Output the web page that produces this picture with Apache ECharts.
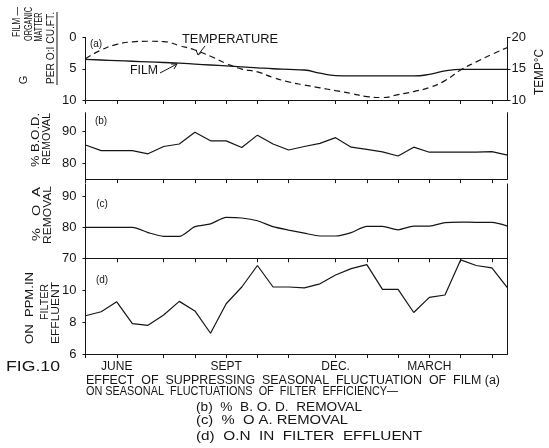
<!DOCTYPE html>
<html><head><meta charset="utf-8">
<script src="https://cdn.jsdelivr.net/npm/echarts@6/dist/echarts.min.js"></script>
<style>html,body{margin:0;padding:0;background:#fff;}#c{width:549px;height:448px;}</style>
</head><body><div id="c"></div>
<script>
// ---- data ----
const samples = ['1','2','3','4','5','6','7','8','9','10','11','12','13','14','15','16','17','18','19','20','21','22','23','24','25','26','27','28'];
const tickIdx = [0,2,5,7,9,11,13,16,18,20,22,24,26];
const monthIdx = [2,9,16,22];
const monthNames = ['JUNE','SEPT','DEC.','MARCH'];
const film = [3.5,3.6,3.7,3.8,3.9,4.0,4.1,4.25,4.4,4.55,4.7,4.85,5.0,5.1,5.2,5.7,6.1,6.15,6.15,6.15,6.15,6.15,5.9,5.35,5.1,5.1,5.1,5.1];
const temperature = [16.6,18.0,18.9,19.3,19.4,19.35,18.7,18.0,17.0,15.85,14.95,14.5,13.6,12.9,12.4,11.95,11.5,11.05,10.55,10.4,10.85,11.35,12.0,13.1,14.8,16.1,17.3,18.4];
const bodRemoval = [85.8,84.0,84.0,84.0,83.0,85.3,86.1,89.8,87.1,87.1,85.0,88.9,86.1,84.2,85.3,86.3,88.1,85.1,84.4,83.6,82.3,85.1,83.5,83.5,83.5,83.5,83.7,82.6];
const oaRemoval = [80.0,80.0,80.0,80.0,78.3,77.1,77.1,80.2,81.1,83.2,83.0,82.1,80.2,79.1,78.1,77.2,77.2,78.3,80.3,80.3,79.2,80.4,80.4,81.5,81.7,81.6,81.6,80.4];
const onEffluent = [8.4,8.65,9.27,7.9,7.8,8.45,9.3,8.7,7.3,9.15,10.2,11.55,10.2,10.2,10.15,10.4,10.95,11.35,11.6,10.05,10.05,8.6,9.55,9.7,11.9,11.55,11.4,10.15];
const filmTicks = [0,5,10];
const tempTicks = [10,15,20];
const bodTicks = [80,90];
const oaTicks = [70,80,90];
const onTicks = [6,8,10];

// ---- helpers ----
const FONT = '"Liberation Sans", Arial, sans-serif';
const INK = '#151515';
const mctx = document.createElement('canvas').getContext('2d');
function tw(t, s){ mctx.font = s + 'px ' + FONT; return mctx.measureText(t).width; }
function htext(x, y, t, s, width, align){
  const sc = width ? width / tw(t, s) : 1;
  return {type:'text', x:x, y:y, scaleX:sc, silent:true,
    style:{text:t, fontSize:s, fontFamily:FONT, fill:INK, align:align||'left', textAlign:align||'left', verticalAlign:'middle', textVerticalAlign:'middle'}};
}
function vtext(cx, cy, t, s, len){
  const sc = len ? len / tw(t, s) : 1;
  return {type:'text', x:cx, y:cy, rotation:Math.PI/2, scaleX:sc, silent:true,
    style:{text:t, fontSize:s, fontFamily:FONT, fill:INK, align:'center', textAlign:'center', verticalAlign:'middle', textVerticalAlign:'middle'}};
}
function pline(pts){ return {type:'polyline', silent:true, shape:{points:pts}, style:{stroke:INK, lineWidth:1, fill:null}}; }

const L = 85.5, R = 41.5;
const grids = [
  {left:L, right:R, top:37.5, height:62.5},
  {left:L, right:R, top:112.7, height:66.4},
  {left:L, right:R, top:183.9, height:74.4},
  {left:L, right:R, top:258.3, height:95.7}
];
const axLine = {show:true, onZero:false, lineStyle:{color:INK, width:1}};
const xAxes = grids.map((g, i) => ({
  type:'category', gridIndex:i, data:samples, boundaryGap:false,
  axisLine:axLine,
  axisTick:{show:true, length:4, interval:(idx) => tickIdx.includes(idx), lineStyle:{color:INK, width:1}},
  axisLabel:{show:i === 3, interval:(idx) => monthIdx.includes(idx),
    formatter:(v, idx) => { const k = monthIdx.indexOf(idx); return k >= 0 ? monthNames[k] : ''; },
    color:INK, fontFamily:FONT, fontSize:12, margin:7},
  splitLine:{show:false}
}));
function leftAxis(gi, mn, mx, ticks, inv){
  return {type:'value', gridIndex:gi, min:mn, max:mx, inverse:!!inv, position:'left',
    axisLine:axLine, splitLine:{show:false},
    axisTick:{show:true, length:3, customValues:ticks, lineStyle:{color:INK}},
    axisLabel:{customValues:ticks, color:INK, fontFamily:FONT, fontSize:13, margin:9}};
}
function rightLine(gi, mn, mx){
  return {type:'value', gridIndex:gi, min:mn, max:mx, position:'right',
    axisLine:axLine, splitLine:{show:false}, axisTick:{show:false}, axisLabel:{show:false}};
}
const yAxes = [
  leftAxis(0, 0, 10, filmTicks, true),
  {type:'value', gridIndex:0, min:10, max:20, position:'right', axisLine:axLine, splitLine:{show:false},
    axisTick:{show:true, length:3, customValues:tempTicks, lineStyle:{color:INK}},
    axisLabel:{customValues:tempTicks, color:INK, fontFamily:FONT, fontSize:13, margin:4}},
  leftAxis(1, 75, 96, bodTicks), rightLine(1, 75, 96),
  leftAxis(2, 70, 94, oaTicks), rightLine(2, 70, 94),
  leftAxis(3, 6, 12, onTicks), rightLine(3, 6, 12)
];
const ls = (w, t) => ({color:INK, width:w, type:t || 'solid'});
const series = [
  {name:'FILM', type:'line', xAxisIndex:0, yAxisIndex:0, data:film, smooth:0.5, symbol:'none', lineStyle:ls(1.3)},
  {name:'TEMPERATURE', type:'line', xAxisIndex:0, yAxisIndex:1, data:temperature, smooth:0.5, symbol:'none', lineStyle:ls(1.2, [6, 4])},
  {name:'B.O.D.', type:'line', xAxisIndex:1, yAxisIndex:2, data:bodRemoval, symbol:'none', lineStyle:ls(1.2)},
  {name:'O.A.', type:'line', xAxisIndex:2, yAxisIndex:4, data:oaRemoval, smooth:0.25, symbol:'none', lineStyle:ls(1.2)},
  {name:'O.N.', type:'line', xAxisIndex:3, yAxisIndex:6, data:onEffluent, symbol:'none', lineStyle:ls(1.2)}
];
const graphics = [
  // panel (a) axis titles
  vtext(17, 22, 'FILM \u2014', 11, 30),
  vtext(28.5, 24, 'ORGANIC', 11, 34),
  vtext(24, 80, 'G', 11),
  vtext(39, 27, 'MATTER', 11, 29),
  vtext(50.5, 48, 'PER O:I CU.FT.', 11, 72),
  pline([[57, 12], [57, 85]]),
  vtext(540, 72, 'TEMP\u00B0C', 12, 46),
  htext(96, 44, '(a)', 10, null, 'center'),
  htext(182, 40, 'TEMPERATURE', 12, 96),
  pline([[205, 46], [198, 55]]), pline([[196, 50], [198, 55], [202, 52]]),
  htext(130, 71, 'FILM', 12, 28),
  pline([[160, 73], [177, 64]]), pline([[171, 64], [177, 64], [174, 69]]),
  // panel (b)
  vtext(36, 140, '% B.O.D.', 11, 54),
  vtext(46.5, 139, 'REMOVAL', 11, 52),
  htext(101, 121, '(b)', 10, null, 'center'),
  // panel (c)
  vtext(37, 214, '%   O  A', 11, 54),
  vtext(47.5, 215, 'REMOVAL', 11, 58),
  htext(102, 204, '(c)', 10, null, 'center'),
  // panel (d)
  vtext(30, 308, 'ON  PPM.IN', 11, 72),
  vtext(45, 302, 'FILTER', 11, 36),
  vtext(56, 313, 'EFFLUENT', 11, 62),
  htext(102, 280, '(d)', 10, null, 'center'),
  // captions
  htext(6, 367, 'FIG.10', 15, 54),
  htext(86, 381, 'EFFECT  OF  SUPPRESSING  SEASONAL  FLUCTUATION  OF  FILM (a)', 12, 414),
  htext(86, 392, 'ON SEASONAL  FLUCTUATIONS  OF  FILTER  EFFICIENCY\u2014', 12, 312),
  htext(196, 407.5, '(b)  %  B. O. D.  REMOVAL', 12, 166),
  htext(196, 421, '(c)  %  O A. REMOVAL', 12, 152),
  htext(196, 437, '(d)  O.N  IN  FILTER  EFFLUENT', 12, 226)
];
const chart = echarts.init(document.getElementById('c'), null, {renderer:'canvas'});
chart.setOption({
  animation:false, backgroundColor:'#fff',
  grid:grids, xAxis:xAxes, yAxis:yAxes, series:series, graphic:{elements:graphics}
});
</script></body></html>
